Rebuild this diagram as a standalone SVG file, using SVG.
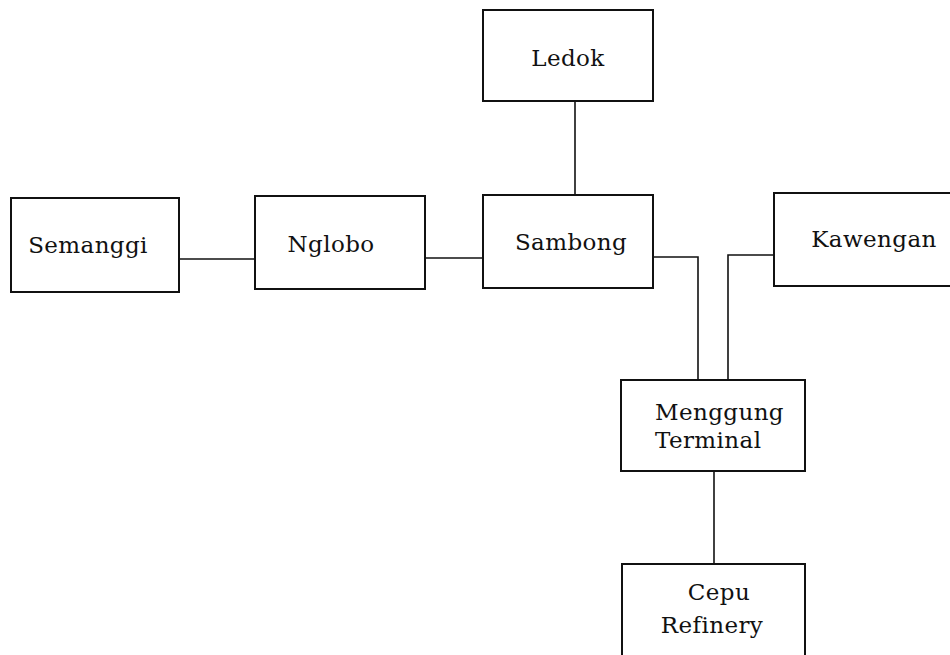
<svg xmlns="http://www.w3.org/2000/svg" width="950" height="655" viewBox="0 0 950 655">
  <style>
    .box { fill: #fff; stroke: #111; stroke-width: 2; }
    .lbl { font-family: "DejaVu Serif", "Liberation Serif", serif; font-size: 23px; fill: #111; text-anchor: middle; letter-spacing: 0.4px; }
    .left { text-anchor: start; }
    .wire { fill: none; stroke: #111; stroke-width: 1.6; }
  </style>
  <rect width="950" height="655" fill="#fff"/>

  <g id="connectors">
    <line class="wire" x1="179" y1="259" x2="255" y2="259"/>
    <line class="wire" x1="425" y1="258" x2="483" y2="258"/>
    <line class="wire" x1="575" y1="100" x2="575" y2="195"/>
    <polyline class="wire" points="653,257 698,257 698,380"/>
    <polyline class="wire" points="774,255 728,255 728,380"/>
    <line class="wire" x1="714" y1="471" x2="714" y2="564"/>
  </g>

  <g id="ledok">
    <rect class="box" x="483" y="10" width="170" height="91"/>
    <text class="lbl" x="568" y="66">Ledok</text>
  </g>
  <g id="semanggi">
    <rect class="box" x="11" y="198" width="168" height="94"/>
    <text class="lbl" x="88" y="253">Semanggi</text>
  </g>
  <g id="nglobo">
    <rect class="box" x="255" y="196" width="170" height="93"/>
    <text class="lbl" x="331" y="252">Nglobo</text>
  </g>
  <g id="sambong">
    <rect class="box" x="483" y="195" width="170" height="93"/>
    <text class="lbl" x="571" y="250">Sambong</text>
  </g>
  <g id="kawengan">
    <rect class="box" x="774" y="193" width="190" height="93"/>
    <text class="lbl" x="874" y="247">Kawengan</text>
  </g>
  <g id="menggung-terminal">
    <rect class="box" x="621" y="380" width="184" height="91"/>
    <text class="lbl left" x="655" y="420">Menggung</text>
    <text class="lbl left" x="655" y="448">Terminal</text>
  </g>
  <g id="cepu-refinery">
    <rect class="box" x="622" y="564" width="183" height="100"/>
    <text class="lbl" x="719" y="600">Cepu</text>
    <text class="lbl" x="712" y="633">Refinery</text>
  </g>
</svg>
